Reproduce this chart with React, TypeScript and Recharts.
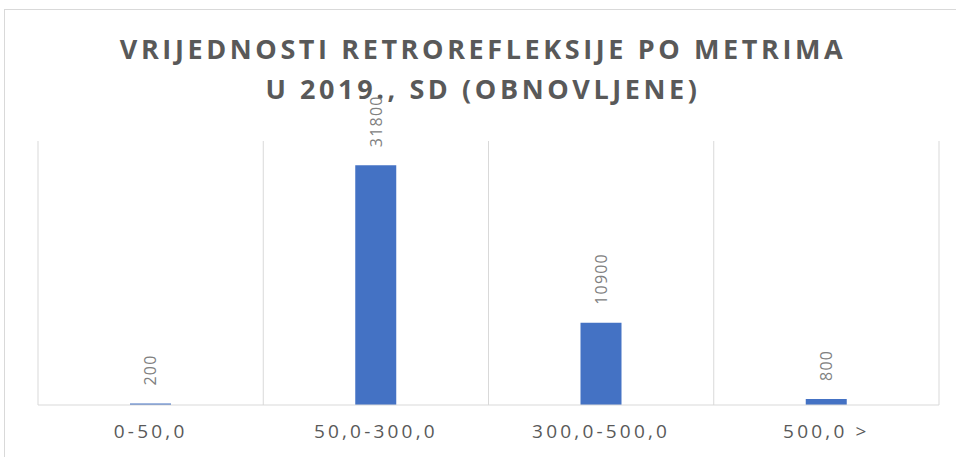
import { Bar, BarChart, CartesianGrid, LabelList, XAxis, YAxis } from 'recharts'

const categories = ['0-50,0', '50,0-300,0', '300,0-500,0', '500,0 >']
const values = [200, 31800, 10900, 800]
const titleLines = ['VRIJEDNOSTI RETROREFLEKSIJE PO METRIMA', 'U 2019., SD (OBNOVLJENE)']

const data = categories.map((name, i) => ({ name, value: values[i] }))

const FONT = '"Open Sans", "Liberation Sans", sans-serif'

function RotatedLabel(props: any) {
  const { x, y, width, value } = props
  const cx = Number(x) + Number(width) / 2
  return (
    <text
      x={cx}
      y={Number(y) - 18}
      transform={`rotate(-90 ${cx} ${Number(y) - 18})`}
      textAnchor="start"
      dominantBaseline="central"
      fill="#808080"
      fontSize={16}
      letterSpacing={1.2}
      fontFamily={FONT}
    >
      {value}
    </text>
  )
}

export default function App() {
  return (
    <div style={{ position: 'fixed', inset: 0, overflow: 'hidden', background: '#fff', fontFamily: FONT }}>
      <div
        style={{
          position: 'absolute',
          left: 4,
          top: 9,
          width: 1000,
          height: 500,
          border: '1px solid #d9d9d9',
        }}
      />
      <div
        style={{
          position: 'absolute',
          left: 0,
          top: 29,
          width: 966,
          textAlign: 'center',
          color: '#595959',
          fontWeight: 700,
          fontSize: 27,
          letterSpacing: 3.6,
          lineHeight: '40px',
        }}
      >
        {titleLines.map((t) => (
          <div key={t}>{t}</div>
        ))}
      </div>
      <div style={{ position: 'absolute', left: 0, top: 0 }}>
        <BarChart width={956} height={457} data={data} margin={{ top: 141, right: 17, bottom: 22, left: 38 }}>
          <CartesianGrid
            horizontal={false}
            stroke="#d9d9d9"
            verticalCoordinatesGenerator={({ offset }: any) =>
              [0, 1, 2, 3, 4].map((i) => offset.left + (i * offset.width) / categories.length)
            }
          />
          <XAxis
            dataKey="name"
            height={30}
            axisLine={{ stroke: '#d9d9d9' }}
            tickLine={false}
            tick={{ fill: '#595959', fontSize: 19, letterSpacing: 3.2, fontFamily: FONT }}
            dy={12}
          />
          <YAxis hide domain={[0, 35000]} />
          <Bar dataKey="value" fill="#4472c4" barSize={41} isAnimationActive={false}>
            <LabelList dataKey="value" content={<RotatedLabel />} />
          </Bar>
        </BarChart>
      </div>
    </div>
  )
}
